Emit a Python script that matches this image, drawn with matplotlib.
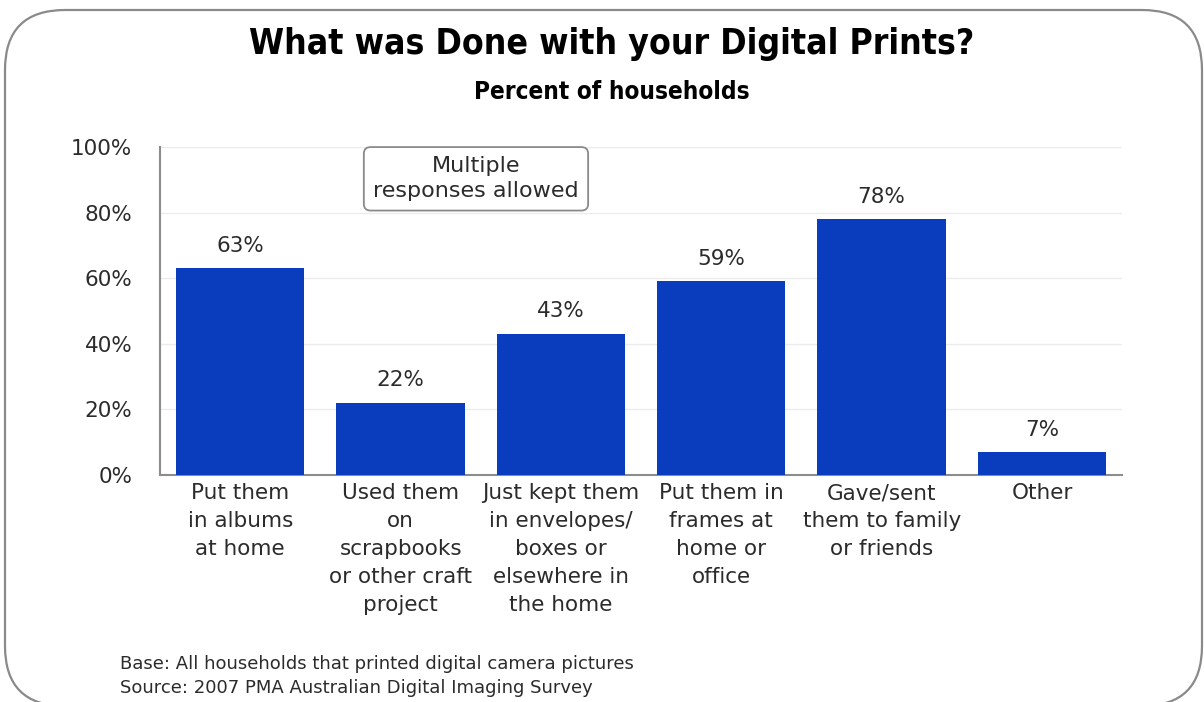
import matplotlib
matplotlib.use('Agg')
import matplotlib.pyplot as plt
from matplotlib.patches import FancyBboxPatch
from matplotlib.ticker import PercentFormatter

plt.rcParams['font.family'] = ['DejaVu Sans']

categories = [
    'Put them\nin albums\nat home',
    'Used them\non\nscrapbooks\nor other craft\nproject',
    'Just kept them\nin envelopes/\nboxes or\nelsewhere in\nthe home',
    'Put them in\nframes at\nhome or\noffice',
    'Gave/sent\nthem to family\nor friends',
    'Other',
]
percent = [63, 22, 43, 59, 78, 7]
yticks = [0, 20, 40, 60, 80, 100]

bar_color = '#0a3cbe'
text_color = '#2b2b2b'

fig = plt.figure(figsize=(12.04, 7.02), dpi=100)

# rounded outer frame, drawn in pixel space so the corners stay circular
bg = fig.add_axes([0, 0, 1, 1])
bg.set_xlim(0, 1204)
bg.set_ylim(702, 0)
bg.axis('off')
frame = FancyBboxPatch((5, 10), 1197, 696, boxstyle='round,pad=0,rounding_size=60',
                       facecolor='white', edgecolor='#8a8a8a', linewidth=1.6)
bg.add_patch(frame)

ax = fig.add_axes([0.133, 0.3234, 0.799, 0.4672])
ax.set_facecolor('none')
x = range(len(categories))
bars = ax.bar(x, percent, width=0.8, color=bar_color, zorder=3)

ax.set_xlim(-0.5, 5.5)
ax.set_ylim(0, 100)
ax.set_yticks(yticks)
ax.yaxis.set_major_formatter(PercentFormatter(decimals=0))
ax.grid(axis='y', color='#ececec', linewidth=1, zorder=0)
ax.tick_params(axis='both', length=0, labelsize=15.5, colors=text_color)
ax.tick_params(axis='y', pad=20)
ax.set_xticks(list(x))
ax.set_xticklabels(categories, linespacing=1.5, va='top')
ax.tick_params(axis='x', pad=6)

for side in ['top', 'right']:
    ax.spines[side].set_visible(False)
for side in ['left', 'bottom']:
    ax.spines[side].set_color('#8c8c8c')
    ax.spines[side].set_linewidth(1.5)

for b, v in zip(bars, percent):
    ax.annotate(f'{v}%', (b.get_x() + b.get_width() / 2, v), xytext=(0, 9),
                textcoords='offset points', ha='center', va='bottom',
                fontsize=15.5, color=text_color)

ax.text(1.47, 90.3, 'Multiple\nresponses allowed', ha='center', va='center',
        fontsize=16, color=text_color, linespacing=1.3, zorder=4,
        bbox=dict(boxstyle='round,pad=0.42,rounding_size=0.3', facecolor='white',
                  edgecolor='#8a8a8a', linewidth=1.3))

fig.text(0.508, 0.937, 'What was Done with your Digital Prints?', ha='center', va='center',
         fontsize=25.5, fontweight='bold', fontstretch='condensed', family='DejaVu Sans',
         color='black')
fig.text(0.508, 0.869, 'Percent of households', ha='center', va='center',
         fontsize=17.5, fontweight='bold', fontstretch='condensed', family='DejaVu Sans',
         color='black')

fig.text(0.1, 0.037, 'Base: All households that printed digital camera pictures\n'
         'Source: 2007 PMA Australian Digital Imaging Survey', ha='left', va='center',
         fontsize=13, color=text_color, linespacing=1.45)

fig.savefig('out.png', dpi=100)
